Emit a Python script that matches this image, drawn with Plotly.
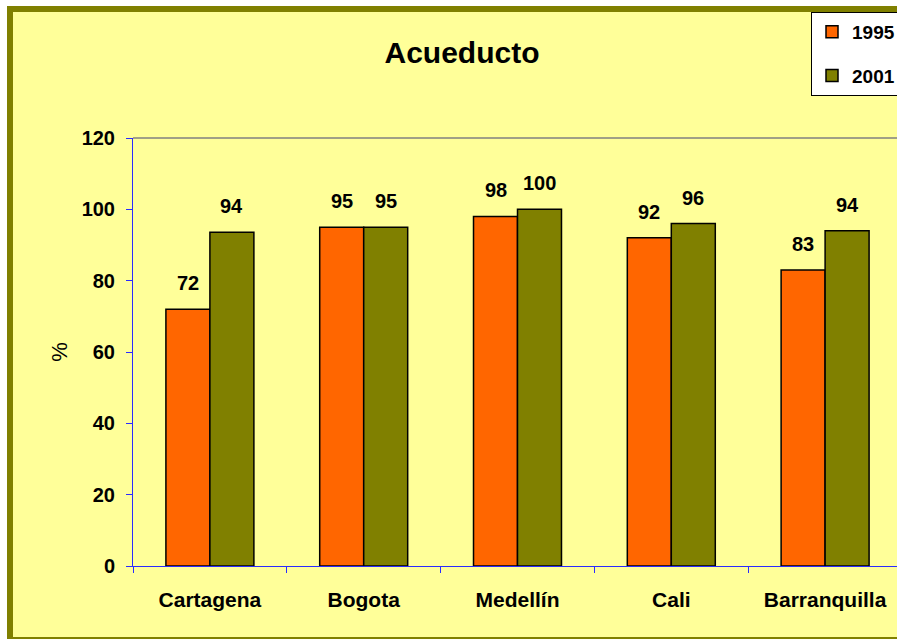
import plotly.graph_objects as go

categories = ["Cartagena", "Bogota", "Medellín", "Cali", "Barranquilla"]
values_1995 = [72, 95, 98, 92, 83]
values_2001 = [93.6, 95, 100, 96, 94]
labels_1995 = ["72", "95", "98", "92", "83"]
labels_2001 = ["94", "95", "100", "96", "94"]
y_ticks = [0, 20, 40, 60, 80, 100, 120]

W, H = 897, 639
L, T, B = 133, 138, 566
FONT = "Arial, Liberation Sans, sans-serif"
BLUE = "#2B2BFF"

fig = go.Figure()
fig.add_trace(go.Bar(name="<b>1995</b>", x=categories, y=values_1995,
                     marker=dict(color="#FF6600", line=dict(color="black", width=1.5)),
                     legendgroup="a"))
fig.add_trace(go.Bar(name="<b>2001</b>", x=categories, y=values_2001,
                     marker=dict(color="#808000", line=dict(color="black", width=1.5)),
                     legendgroup="b"))

annotations = []
for vals, labs, xs in ((values_1995, labels_1995, -22), (values_2001, labels_2001, 22)):
    for c, v, t in zip(categories, vals, labs):
        annotations.append(dict(x=c, y=v, text=f"<b>{t}</b>", showarrow=False,
                                xshift=xs, yshift=26, yanchor="middle",
                                font=dict(family=FONT, size=20, color="black")))

def px(x):
    return (x - L) / (W - L)

def py(y):
    return (B - y) / (B - T)

shapes = [
    # outer frame
    dict(type="rect", xref="paper", yref="paper", x0=px(10), x1=px(960), y0=py(9), y1=py(640),
         line=dict(color="#808000", width=6), fillcolor="#FFFF99", layer="below"),
    # top border of plot area
    dict(type="line", xref="paper", yref="paper", x0=0, x1=1, y0=1, y1=1,
         line=dict(color="#808080", width=1.5)),
]

fig.update_layout(
    width=W, height=H,
    margin=dict(l=L, r=0, t=T, b=H - B, autoexpand=False),
    paper_bgcolor="white",
    plot_bgcolor="rgba(0,0,0,0)",
    barmode="group", bargap=0.428, bargroupgap=0,
    title=dict(text="<b>Acueducto</b>", x=462 / W, xref="container", xanchor="center",
               y=1 - 52 / H, yref="container", yanchor="middle",
               font=dict(family=FONT, size=30, color="black")),
    xaxis=dict(range=[-0.5, 4.5 - 5 / 153.8], showline=True, linecolor=BLUE, linewidth=1,
               ticks="outside", tickson="boundaries", ticklen=6, tickcolor=BLUE,
               tickfont=dict(family=FONT, size=21, color="black"),
               ticklabelstandoff=15, showgrid=False, zeroline=False,
               tickvals=categories, ticktext=[f"<b>{c}</b>" for c in categories]),
    yaxis=dict(range=[0, 120], tickvals=y_ticks, ticktext=[f"<b>{v}</b>" for v in y_ticks],
               showline=True, linecolor=BLUE, linewidth=1, ticks="outside", ticklen=6,
               tickcolor=BLUE, tickfont=dict(family=FONT, size=20, color="black"),
               ticklabelstandoff=7, showgrid=False, zeroline=False,
               title=dict(text="%", font=dict(family=FONT, size=22, color="black"), standoff=7)),
    legend=dict(x=px(811), y=py(12), xanchor="left", yanchor="top",
                bgcolor="white", bordercolor="black", borderwidth=1,
                font=dict(family=FONT, size=19, color="black"),
                tracegroupgap=16, itemwidth=30, traceorder="grouped"),
    showlegend=True,
    annotations=annotations,
    shapes=shapes,
)

fig.write_html(
    "out.html",
    config={"displayModeBar": False},
    post_script="document.body.style.margin='0';document.body.style.overflow='hidden';"
                "document.documentElement.style.overflow='hidden';",
)
